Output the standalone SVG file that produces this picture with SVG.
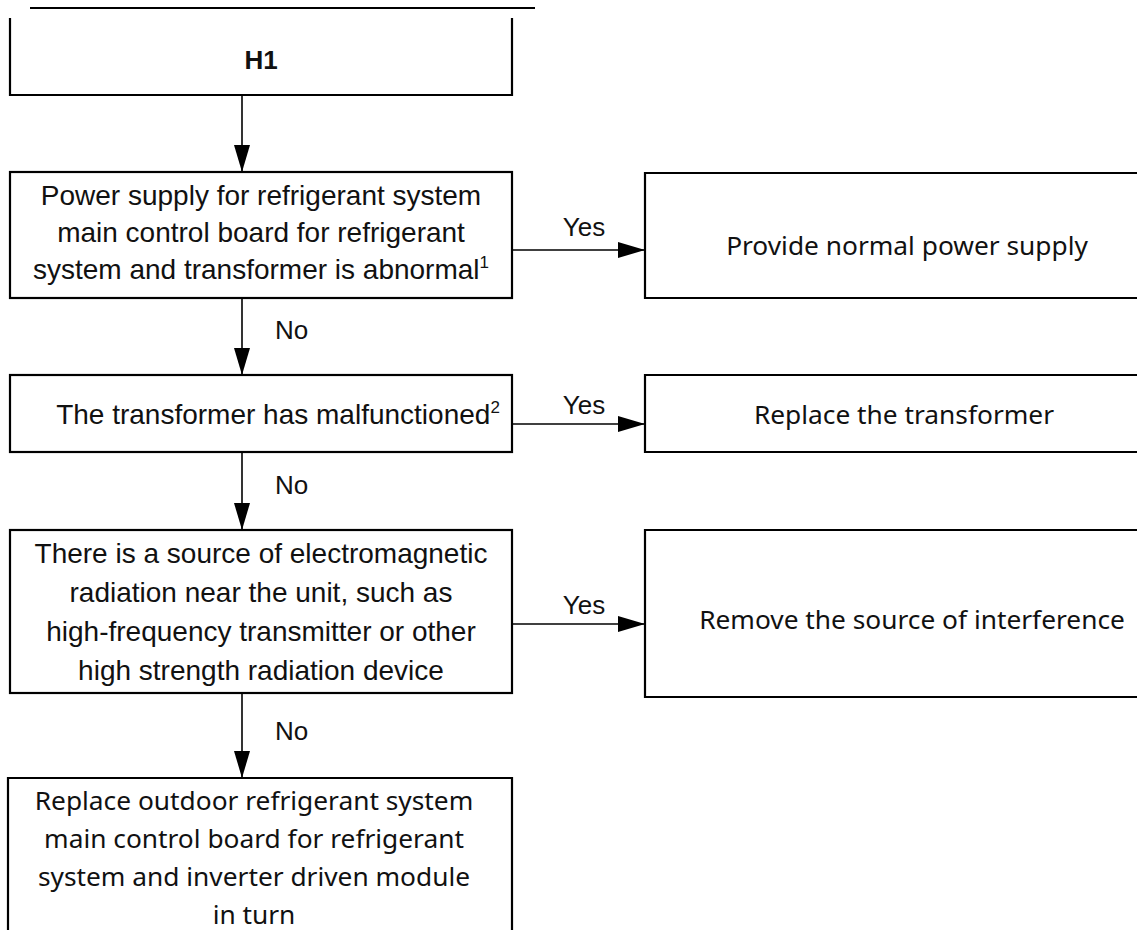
<svg xmlns="http://www.w3.org/2000/svg" width="1137" height="936" viewBox="0 0 1137 936">
<style>
.box{fill:none;stroke:#000;stroke-width:2.2}
.ln{stroke:#000;stroke-width:2.2;fill:none}
.c{stroke:#000;stroke-width:1.6;fill:none}
.n{font-family:"Liberation Sans",Arial,sans-serif;font-size:28px;fill:#111;text-anchor:middle}
.w{font-family:"Noto Sans","Liberation Sans",sans-serif;font-size:26.3px;fill:#111;text-anchor:middle}
.lbl{font-family:"Liberation Sans",Arial,sans-serif;font-size:26px;fill:#111}
.b{font-family:"Liberation Sans",Arial,sans-serif;font-size:26px;font-weight:bold;fill:#111;text-anchor:middle}
</style>
<defs>
<marker id="ah" markerUnits="userSpaceOnUse" markerWidth="28" markerHeight="18" refX="27" refY="8" orient="auto">
<path d="M0,0 L27,8 L0,16 Z" fill="#000"/>
</marker>
</defs>
<rect width="1137" height="936" fill="#fff"/>
<g id="connectors">
<line class="c" x1="242" y1="95" x2="242" y2="172" marker-end="url(#ah)"/>
<line class="c" x1="512" y1="250" x2="645" y2="250" marker-end="url(#ah)"/>
<text class="lbl" x="584" y="236" text-anchor="middle">Yes</text>
<line class="c" x1="242" y1="298" x2="242" y2="375" marker-end="url(#ah)"/>
<text class="lbl" x="275" y="339">No</text>
<line class="c" x1="512" y1="424" x2="645" y2="424" marker-end="url(#ah)"/>
<text class="lbl" x="584" y="414" text-anchor="middle">Yes</text>
<line class="c" x1="242" y1="452" x2="242" y2="530" marker-end="url(#ah)"/>
<text class="lbl" x="275" y="494">No</text>
<line class="c" x1="512" y1="624" x2="645" y2="624" marker-end="url(#ah)"/>
<text class="lbl" x="584" y="614" text-anchor="middle">Yes</text>
<line class="c" x1="242" y1="693" x2="242" y2="778" marker-end="url(#ah)"/>
<text class="lbl" x="275" y="740">No</text>
</g>
<g id="h1">
<line class="ln" x1="30" y1="8" x2="535" y2="8"/>
<path class="ln" d="M10,18 V95 H512 V18"/>
<text class="b" x="261" y="69">H1</text>
</g>
<g id="power">
<rect class="box" x="10" y="172" width="502" height="126"/>
<text class="n" x="261" y="205">Power supply for refrigerant system</text>
<text class="n" x="261" y="242">main control board for refrigerant</text>
<text class="n" x="261" y="279">system and transformer is abnormal<tspan font-size="17" dy="-11">1</tspan></text>
</g>
<g id="provide">
<path class="box" d="M1140,173 H645 V298 H1140"/>
<text class="w" x="907" y="255">Provide normal power supply</text>
</g>
<g id="transformer">
<rect class="box" x="10" y="375" width="502" height="77"/>
<text class="n" x="278" y="424">The transformer has malfunctioned<tspan font-size="17" dy="-11">2</tspan></text>
</g>
<g id="replace">
<path class="box" d="M1140,375 H645 V452 H1140"/>
<text class="w" x="904" y="424">Replace the transformer</text>
</g>
<g id="source">
<rect class="box" x="10" y="530" width="502" height="163"/>
<text class="n" x="261" y="563">There is a source of electromagnetic</text>
<text class="n" x="261" y="602">radiation near the unit, such as</text>
<text class="n" x="261" y="641">high-frequency transmitter or other</text>
<text class="n" x="261" y="680">high strength radiation device</text>
</g>
<g id="remove">
<path class="box" d="M1140,530 H645 V697 H1140"/>
<text class="w" x="912" y="629">Remove the source of interference</text>
</g>
<g id="replace-board">
<path class="ln" d="M8,930 V778 H512 V930"/>
<text class="w" x="254" y="810">Replace outdoor refrigerant system</text>
<text class="w" x="254" y="848">main control board for refrigerant</text>
<text class="w" x="254" y="886">system and inverter driven module</text>
<text class="w" x="254" y="924">in turn</text>
</g>
</svg>
